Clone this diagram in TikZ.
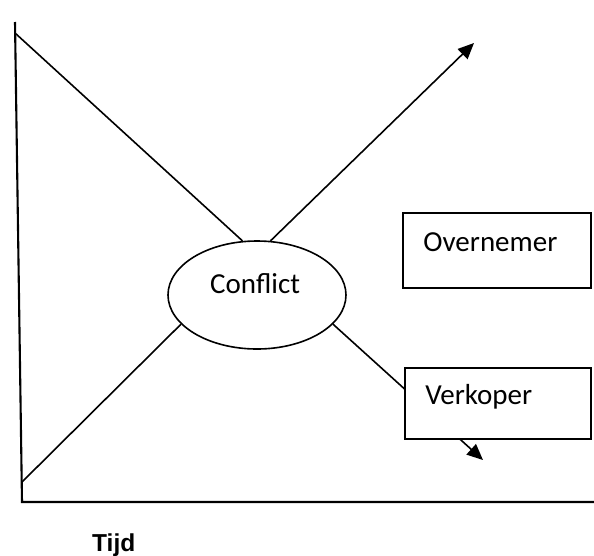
\documentclass[tikz,border=0pt]{standalone}
\usepackage{fontspec}
\setmainfont{Carlito}
\newfontfamily\axisfont{Liberation Sans}
\usetikzlibrary{arrows.meta}
\usetikzlibrary{shapes.geometric}
\usetikzlibrary{calc}
\tikzset{
  axisline/.style={black,line width=2.1pt},
  pathline/.style={black,line width=1.6pt},
  tipline/.style={pathline,-{Triangle[length=16pt,width=14pt]}},
  conflictshape/.style={ellipse,draw,line width=1.6pt,fill=white,minimum width=178pt,minimum height=108pt,inner sep=0pt},
  rolebox/.style={rectangle,draw,line width=1.6pt,fill=white,inner sep=0pt},
  roletext/.style={anchor=base west,inner sep=0pt,font=\fontsize{29}{35}\selectfont}
}

\begin{document}
\begin{tikzpicture}[x=1pt,y=-1pt]
\useasboundingbox (0,0) rectangle (594,555);
% axes
\coordinate (ytop) at (15,22);
\coordinate (origin) at (22,502);
\coordinate (xend) at (594,502);
\draw[axisline] (ytop)--(origin)--(xend);
\node[anchor=base west,inner sep=0pt,font=\axisfont\bfseries\fontsize{24.5}{28}\selectfont] (tijd) at (92,551) {Tijd};
% conflict in the middle
\node[conflictshape] (conflict) at (257,295) {};
\node[roletext] (conflicttext) at ($(conflict.center)+(-47,-2)$) {Conflict};
\coordinate (startdown) at (15,33);
\coordinate (startup) at (22,482);
\coordinate (tipup) at (474,43);
\coordinate (tipdown) at (483,460);
\draw[pathline] (startdown)--(conflict.105);
\draw[pathline] (startup)--(conflict.201);
\draw[tipline] (conflict.76)--(tipup);
\draw[tipline] (conflict.-21)--(tipdown);
% parties
\node[rolebox,minimum width=188pt,minimum height=75pt] (overnemer) at (497,250.5) {};
\node[roletext] (overnemertext) at ($(overnemer.north west)+(21,39)$) {Overnemer};
\node[rolebox,minimum width=186pt,minimum height=71pt] (verkoper) at (498,403.5) {};
\node[roletext] (verkopertext) at ($(verkoper.north west)+(21,37)$) {Verkoper};
\end{tikzpicture}
\end{document}
